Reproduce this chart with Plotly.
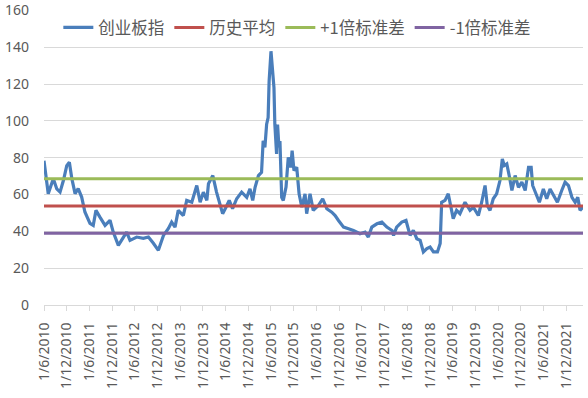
import plotly.graph_objects as go

dates = [
    "2010-06-01", "2010-07-05", "2010-08-15", "2010-09-12", "2010-10-08", "2010-11-04",
    "2010-12-01", "2010-12-22", "2011-01-11", "2011-02-06", "2011-03-03", "2011-03-31",
    "2011-04-26", "2011-06-06", "2011-07-02", "2011-07-24", "2011-08-25", "2011-10-05",
    "2011-11-14", "2011-12-10", "2012-01-20", "2012-02-29", "2012-03-27", "2012-04-23",
    "2012-06-16", "2012-08-08", "2012-09-18", "2012-10-28", "2012-12-07", "2013-01-17",
    "2013-02-26", "2013-03-24", "2013-04-20", "2013-05-16", "2013-06-26", "2013-07-23",
    "2013-09-02", "2013-10-12", "2013-11-08", "2013-12-04", "2014-01-01", "2014-01-14",
    "2014-02-18", "2014-03-20", "2014-04-16", "2014-05-08", "2014-06-04", "2014-06-30",
    "2014-07-27", "2014-08-29", "2014-10-08", "2014-11-18", "2014-12-14", "2015-01-05",
    "2015-01-24", "2015-02-20", "2015-03-17", "2015-03-30", "2015-04-13", "2015-04-27",
    "2015-05-09", "2015-05-17", "2015-06-01", "2015-06-14", "2015-06-25", "2015-07-02",
    "2015-07-16", "2015-07-24", "2015-08-04", "2015-08-12", "2015-08-26", "2015-09-08",
    "2015-09-30", "2015-10-18", "2015-11-07", "2015-11-18", "2015-12-03", "2015-12-25",
    "2016-01-13", "2016-02-04", "2016-03-01", "2016-03-14", "2016-04-10", "2016-05-06",
    "2016-06-16", "2016-07-21", "2016-08-23", "2016-10-02", "2016-10-29", "2016-11-25",
    "2017-01-05", "2017-02-14", "2017-03-25", "2017-05-17", "2017-06-27", "2017-07-23",
    "2017-08-20", "2017-09-30", "2017-11-09", "2017-12-19", "2018-01-29", "2018-02-11",
    "2018-03-08", "2018-04-18", "2018-05-22", "2018-06-24", "2018-07-20", "2018-08-17",
    "2018-09-13", "2018-10-09", "2018-11-06", "2018-12-02", "2018-12-29", "2019-01-30",
    "2019-02-21", "2019-03-05", "2019-04-01", "2019-04-27", "2019-05-11", "2019-06-06",
    "2019-07-03", "2019-07-30", "2019-09-09", "2019-10-19", "2019-11-15", "2019-12-25",
    "2020-01-21", "2020-02-17", "2020-03-06", "2020-03-28", "2020-04-23", "2020-05-20",
    "2020-06-16", "2020-07-05", "2020-07-21", "2020-08-10", "2020-09-01", "2020-09-20",
    "2020-10-16", "2020-11-12", "2020-12-09", "2021-01-05", "2021-02-01", "2021-02-22",
    "2021-03-06", "2021-04-02", "2021-04-29", "2021-05-31", "2021-06-27", "2021-07-24",
    "2021-08-20", "2021-09-21", "2021-10-26", "2021-11-22", "2021-12-19", "2022-01-16",
    "2022-02-11", "2022-03-04", "2022-03-22", "2022-04-15",
]

chinext_pe = [
    78.4, 60.4, 68.6, 63.0, 61.3, 67.6,
    75.7, 77.5, 68.6, 60.5, 63.2, 58.6,
    50.5, 44.3, 43.2, 51.4, 47.7, 43.2,
    46.0, 39.6, 32.4, 36.9, 39.6, 35.1,
    36.9, 36.2, 36.9, 33.5, 29.7, 37.8,
    41.6, 45.0, 42.3, 51.4, 48.6, 56.8,
    55.8, 64.9, 55.8, 61.3, 56.8, 65.8,
    70.3, 61.3, 55.0, 49.6, 53.1, 56.8,
    52.3, 57.7, 61.3, 58.5, 63.1, 56.8,
    63.9, 70.3, 72.1, 89.2, 85.6, 98.2,
    101.8, 121.6, 137.8, 128.8, 118.0, 98.2,
    82.0, 98.0, 85.6, 89.0, 58.5, 56.8,
    64.0, 80.2, 74.8, 83.8, 73.0, 74.8,
    60.4, 53.1, 60.4, 49.6, 60.4, 51.4,
    54.0, 57.7, 52.3, 50.4, 48.6, 45.9,
    42.3, 41.4, 40.5, 38.7, 39.6, 36.9,
    42.3, 44.1, 45.0, 42.3, 40.5, 37.8,
    42.3, 45.0, 45.9, 37.8, 40.5, 36.0,
    35.1, 28.8, 30.6, 31.5, 28.8, 28.8,
    33.4, 55.8, 56.8, 60.4, 55.0, 46.9,
    51.4, 49.6, 55.8, 51.4, 53.1, 48.6,
    55.8, 64.9, 54.0, 51.4, 57.7, 60.4,
    67.6, 79.3, 75.7, 76.6, 69.4, 62.2,
    70.3, 63.9, 66.7, 62.2, 74.8, 74.8,
    64.9, 60.4, 55.8, 63.0, 57.7, 63.0,
    59.5, 55.8, 62.2, 66.7, 64.9, 58.5,
    55.8, 58.5, 51.4, 53.1,
]

hist_mean = 53.8
plus_1sd = 68.6
minus_1sd = 38.9

series_names = ["创业板指", "历史平均", "+1倍标准差", "-1倍标准差"]
y_ticks = [0, 20, 40, 60, 80, 100, 120, 140, 160]

colors = ["#4A7EBB", "#C0504D", "#9BBB59", "#8064A2"]
font_family = "Noto Sans CJK SC, Noto Sans, sans-serif"
tick_family = "Noto Sans, sans-serif"
text_color = "#595959"
grid_color = "#D9D9D9"

fig = go.Figure()
fig.add_trace(go.Scatter(x=dates, y=chinext_pe, mode="lines", name=series_names[0],
                         line=dict(color=colors[0], width=3.2)))
span = [dates[0], dates[-1]]
for name, val, col in zip(series_names[1:], [hist_mean, plus_1sd, minus_1sd], colors[1:]):
    fig.add_trace(go.Scatter(x=span, y=[val, val], mode="lines", name=name,
                             line=dict(color=col, width=3)))

fig.update_layout(
    width=588, height=398,
    margin=dict(l=44, r=5, t=10, b=93, autoexpand=False),
    paper_bgcolor="white", plot_bgcolor="white",
    font=dict(family=font_family, color=text_color, size=14),
    showlegend=True,
    legend=dict(orientation="h", xref="paper", yref="paper",
                x=0.47, y=0.94, xanchor="center", yanchor="middle",
                font=dict(size=16.5, color=text_color), bgcolor="rgba(0,0,0,0)",
                itemwidth=30, tracegroupgap=0),
)
fig.update_xaxes(
    type="date", range=span, automargin=False,
    tick0="2010-06-01", dtick="M6", tickformat="%-d/%-m/%Y",
    tickangle=-90, showgrid=False, showline=True, linecolor=grid_color, linewidth=1,
    ticks="outside", ticklen=5, tickcolor=grid_color, tickwidth=1,
    tickfont=dict(family=tick_family, size=14, color=text_color), ticklabelstandoff=6,
)
fig.update_yaxes(
    range=[0, 160.2], tickvals=y_ticks, showgrid=True, gridcolor=grid_color, gridwidth=1,
    zeroline=False, showline=False, ticks="", automargin=False, ticklabeloverflow="allow",
    tickfont=dict(family=tick_family, size=14, color=text_color), ticklabelstandoff=14,
)

fig.write_html("out.html", config={"displayModeBar": False},
               post_script="document.body.style.margin='0';document.body.style.overflow='hidden';")
